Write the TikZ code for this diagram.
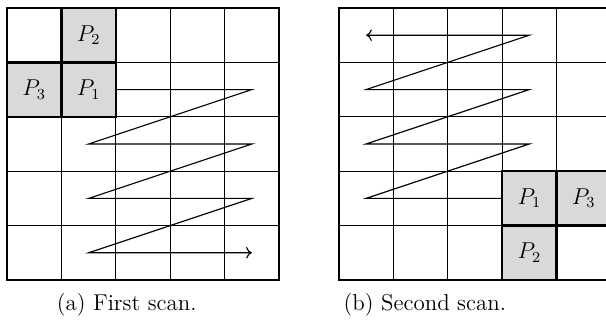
\documentclass[tikz,border=0pt]{standalone}
\usepackage{amsmath,amssymb}
\usepackage{tikz}
\usetikzlibrary{arrows.meta,positioning}
\usepackage{xcolor}
\definecolor{cellgray}{RGB}{217,217,217}

\begin{document}
\begin{tikzpicture}[every node/.style={font=\large},
  pcell/.style={draw,line width=1.2pt,fill=cellgray,minimum size=1cm,
    inner sep=0pt,outer sep=0pt},
  scan/.style={line width=0.6pt}]
\useasboundingbox (-0.13,-0.88) rectangle (11.01,5.147);
% first scan
\draw[line width=0.5pt] (0,0) grid (5,5);
\node[pcell] (pa1) at (1.5,3.5) {$P_1$};
\node[pcell,above=0pt of pa1] (pa2) {$P_2$};
\node[pcell,left=0pt of pa1] (pa3) {$P_3$};
\draw[line width=1.2pt] (0,0) rectangle (5,5);
\coordinate (enda) at (4.5,0.5);
\draw[scan,-{To[length=3pt,width=6pt]}] (pa1.east) -- (4.5,3.5) -- (1.5,2.5) -- (4.5,2.5)
  -- (1.5,1.5) -- (4.5,1.5) -- (1.5,0.5) -- (enda);
\node (capa) at (2.2,-0.46) {(a) First scan.};
% second scan
\begin{scope}[xshift=6.1cm]
\draw[line width=0.5pt] (0,0) grid (5,5);
\node[pcell] (pb1) at (3.5,1.5) {$P_1$};
\node[pcell,below=0pt of pb1] (pb2) {$P_2$};
\node[pcell,right=0pt of pb1] (pb3) {$P_3$};
\draw[line width=1.2pt] (0,0) rectangle (5,5);
\coordinate (endb) at (0.5,4.5);
\draw[scan,-{To[length=3pt,width=6pt]}] (pb1.west) -- (0.5,1.5) -- (3.5,2.5) -- (0.5,2.5)
  -- (3.5,3.5) -- (0.5,3.5) -- (3.5,4.5) -- (endb);
\end{scope}
\node (capb) at (7.68,-0.46) {(b) Second scan.};
\end{tikzpicture}
\end{document}
